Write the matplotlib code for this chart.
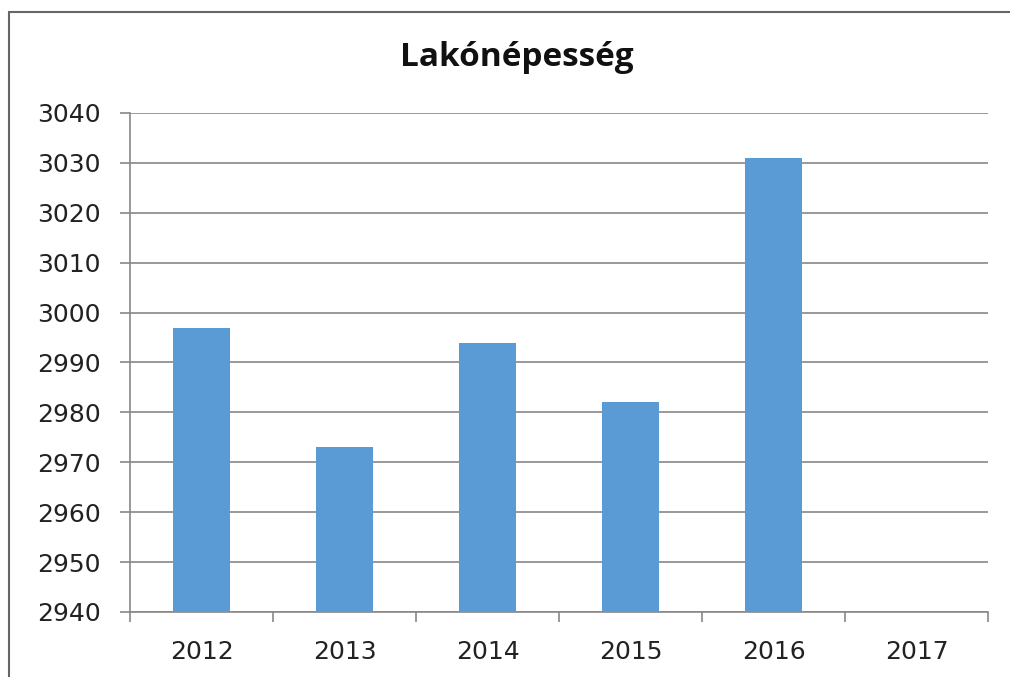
import matplotlib
matplotlib.use('Agg')
import matplotlib.pyplot as plt
from matplotlib.patches import Rectangle
import numpy as np

years = ['2012', '2013', '2014', '2015', '2016', '2017']
population = [2997, 2973, 2994, 2982, 3031, np.nan]
yticks = list(range(2940, 3041, 10))

plt.rcParams['font.family'] = ['DejaVu Sans']

fig = plt.figure(figsize=(10.1, 6.77), dpi=100)
ax = fig.add_axes([130/1010, 1 - 612/677, (988 - 130)/1010, (612 - 113)/677])

x = np.arange(len(years))
ax.bar(x, population, width=0.4, color='#5B9BD5', zorder=3)

ax.set_ylim(2940, 3040)
ax.set_xlim(-0.5, len(years) - 0.5)
ax.set_yticks(yticks)
ax.set_yticklabels([str(v) for v in yticks], fontsize=18, color='#222222')
ax.set_xticks(x)
ax.set_xticklabels(years, fontsize=18, color='#222222')
ax.tick_params(axis='x', length=0, pad=20)
ax.tick_params(axis='y', length=7, color='#888888', width=1.2, pad=14)
# category boundary ticks on the x axis
ax.set_xticks(np.arange(-0.5, len(years)), minor=True)
ax.tick_params(axis='x', which='minor', length=7, color='#888888', width=1.2)

ax.grid(axis='y', color='#888888', linewidth=1.2, zorder=0)
for s in ['top', 'right']:
    ax.spines[s].set_visible(False)
ax.spines['left'].set_color('#888888')
ax.spines['left'].set_linewidth(1.2)
ax.spines['bottom'].set_color('#888888')
ax.spines['bottom'].set_linewidth(1.2)

fig.text(517/1010, 1 - 58/677, 'Lakónépesség', ha='center', va='center',
         fontsize=24, fontweight='bold', color='#111111',
         family=['Open Sans', 'DejaVu Sans'])

# outer chart border
fig.patches.append(Rectangle((9/1010, -0.1), 1.2, 1 - 12/677 + 0.1,
                             transform=fig.transFigure, fill=False,
                             edgecolor='#666666', linewidth=1.5))

fig.savefig('out.png', dpi=100)
